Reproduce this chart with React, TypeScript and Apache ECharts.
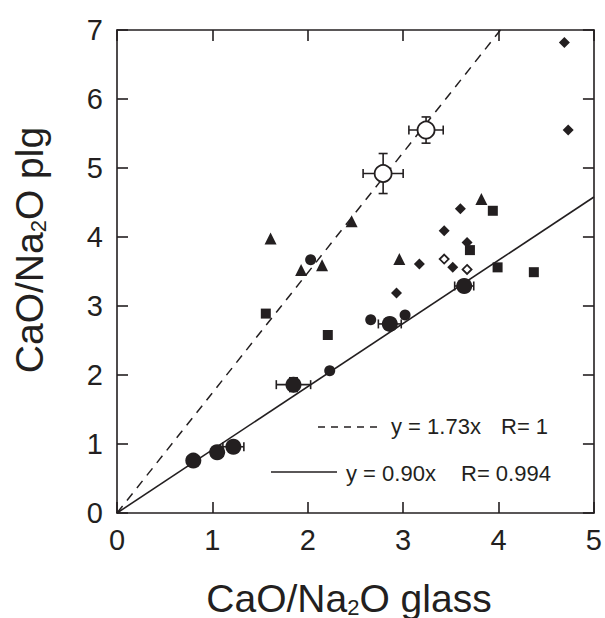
import React, { useEffect, useRef } from "react";
import * as echarts from "echarts";

const FONT = '"Liberation Sans", Arial, Helvetica, sans-serif';
const INK = "#231f20";

const xRange = [0, 5];
const yRange = [0, 7];

// large filled circles: [x, y, xErr, yErr]
const bigDots = [
  [0.8, 0.76, 0, 0],
  [1.05, 0.88, 0, 0],
  [1.22, 0.96, 0.11, 0],
  [1.85, 1.86, 0.18, 0.1],
  [2.86, 2.74, 0.12, 0.08],
  [3.64, 3.29, 0.1, 0],
];
// open circles: [x, y, xErr, yErr]
const openDots = [
  [2.79, 4.92, 0.21, 0.29],
  [3.24, 5.55, 0.18, 0.19],
];
const smallDots = [
  [2.03, 3.67],
  [2.23, 2.06],
  [2.66, 2.8],
  [3.02, 2.87],
];
const triangles = [
  [1.61, 3.98],
  [1.93, 3.52],
  [2.15, 3.59],
  [2.46, 4.23],
  [2.96, 3.68],
  [3.82, 4.55],
];
const squares = [
  [1.56, 2.89],
  [2.21, 2.58],
  [3.7, 3.81],
  [3.94, 4.38],
  [3.99, 3.56],
  [4.37, 3.49],
];
const diamonds = [
  [2.93, 3.19],
  [3.17, 3.61],
  [3.43, 4.09],
  [3.52, 3.56],
  [3.6, 4.41],
  [3.67, 3.92],
  [4.69, 6.82],
  [4.73, 5.55],
];
const openDiamonds = [
  [3.43, 3.68],
  [3.67, 3.53],
];
const dashedFit = [
  [0, 0],
  [4.02, 7],
];
const solidFit = [
  [0, 0],
  [5, 4.58],
];

const fitLabels = ["y = 1.73x", "R= 1", "y = 0.90x", "R= 0.994"];

function errorBars(data: number[][]) {
  return {
    type: "custom",
    data,
    z: 2,
    encode: { x: 0, y: 1 },
    renderItem: (_p: any, api: any) => {
      const x = api.value(0);
      const y = api.value(1);
      const ex = api.value(2);
      const ey = api.value(3);
      const cap = 4.5;
      const style = { stroke: INK, lineWidth: 1.6 };
      const children: any[] = [];
      if (ex > 0) {
        const a = api.coord([x - ex, y]);
        const b = api.coord([x + ex, y]);
        children.push({ type: "line", shape: { x1: a[0], y1: a[1], x2: b[0], y2: b[1] }, style });
        children.push({ type: "line", shape: { x1: a[0], y1: a[1] - cap, x2: a[0], y2: a[1] + cap }, style });
        children.push({ type: "line", shape: { x1: b[0], y1: b[1] - cap, x2: b[0], y2: b[1] + cap }, style });
      }
      if (ey > 0) {
        const a = api.coord([x, y - ey]);
        const b = api.coord([x, y + ey]);
        children.push({ type: "line", shape: { x1: a[0], y1: a[1], x2: b[0], y2: b[1] }, style });
        children.push({ type: "line", shape: { x1: a[0] - cap, y1: a[1], x2: a[0] + cap, y2: a[1] }, style });
        children.push({ type: "line", shape: { x1: b[0] - cap, y1: b[1], x2: b[0] + cap, y2: b[1] }, style });
      }
      return { type: "group", children };
    },
  };
}

function scatter(data: number[][], symbol: string, size: number, open = false) {
  return {
    type: "scatter",
    data: data.map((d) => [d[0], d[1]]),
    symbol,
    symbolSize: size,
    z: 4,
    itemStyle: open
      ? { color: "#ffffff", borderColor: INK, borderWidth: 1.8, opacity: 1 }
      : { color: INK, borderWidth: 0, opacity: 1 },
    emphasis: { disabled: true },
  };
}

export default function App() {
  const ref = useRef<HTMLDivElement>(null);
  useEffect(() => {
    if (!ref.current) return;
    const chart = echarts.init(ref.current, null, { renderer: "svg" });
    const axisLine = { show: true, onZero: false, lineStyle: { color: INK, width: 1.6 } };
    const axisTick = { show: true, inside: true, length: 11, lineStyle: { color: INK, width: 1.6 } };
    const label = { fontSize: 29, color: INK, fontFamily: FONT };
    const titleRich = {
      n: { fontSize: 39, lineHeight: 40, fontFamily: FONT, fill: INK, color: INK },
      s: { fontSize: 22, lineHeight: 22, fontFamily: FONT, fill: INK, color: INK, verticalAlign: "bottom" },
    };
    chart.setOption({
      animation: false,
      backgroundColor: "#ffffff",
      grid: { left: 117, top: 30, right: 6, bottom: 105, containLabel: false },
      xAxis: [
        {
          type: "value",
          min: xRange[0],
          max: xRange[1],
          interval: 1,
          position: "bottom",
          axisLine,
          axisTick,
          axisLabel: { ...label, margin: 12 },
          splitLine: { show: false },
        },
        {
          type: "value",
          min: xRange[0],
          max: xRange[1],
          interval: 1,
          position: "top",
          axisLine,
          axisTick,
          axisLabel: { show: false },
          splitLine: { show: false },
        },
      ],
      yAxis: [
        {
          type: "value",
          min: yRange[0],
          max: yRange[1],
          interval: 1,
          position: "left",
          axisLine,
          axisTick,
          axisLabel: { ...label, margin: 14 },
          splitLine: { show: false },
        },
        {
          type: "value",
          min: yRange[0],
          max: yRange[1],
          interval: 1,
          position: "right",
          axisLine,
          axisTick,
          axisLabel: { show: false },
          splitLine: { show: false },
        },
      ],
      series: [
        {
          type: "line",
          data: dashedFit,
          showSymbol: false,
          z: 1,
          lineStyle: { color: INK, width: 1.5, type: [9, 7] },
        },
        {
          type: "line",
          data: solidFit,
          showSymbol: false,
          z: 1,
          lineStyle: { color: INK, width: 1.6 },
        },
        errorBars(bigDots),
        errorBars(openDots),
        scatter(bigDots, "circle", 16),
        scatter(openDots, "circle", 17, true),
        scatter(smallDots, "circle", 11),
        scatter(triangles, "triangle", 12),
        scatter(squares, "rect", 10),
        scatter(diamonds, "diamond", 11),
        scatter(openDiamonds, "diamond", 9, true),
      ],
      graphic: [
        {
          type: "text",
          x: 349,
          y: 598,
          style: {
            text: "{n|CaO/Na}{s|2}{n|O glass}",
            rich: titleRich,
            align: "center",
            verticalAlign: "middle",
            fill: INK,
          },
        },
        {
          type: "text",
          x: 29,
          y: 250,
          rotation: Math.PI / 2,
          style: {
            text: "{n|CaO/Na}{s|2}{n|O plg}",
            rich: titleRich,
            align: "center",
            verticalAlign: "middle",
            fill: INK,
          },
        },
        {
          type: "line",
          shape: { x1: 318, y1: 427, x2: 383, y2: 427 },
          style: { stroke: INK, lineWidth: 1.5, lineDash: [7, 6] },
        },
        {
          type: "line",
          shape: { x1: 271, y1: 472, x2: 337, y2: 472 },
          style: { stroke: INK, lineWidth: 1.6 },
        },
        {
          type: "text",
          x: 391,
          y: 426,
          style: { text: fitLabels[0], fontSize: 22, fontFamily: FONT, fill: INK, verticalAlign: "middle" },
        },
        {
          type: "text",
          x: 501,
          y: 426,
          style: { text: fitLabels[1], fontSize: 22, fontFamily: FONT, fill: INK, verticalAlign: "middle" },
        },
        {
          type: "text",
          x: 346,
          y: 473,
          style: { text: fitLabels[2], fontSize: 22, fontFamily: FONT, fill: INK, verticalAlign: "middle" },
        },
        {
          type: "text",
          x: 461,
          y: 473,
          style: { text: fitLabels[3], fontSize: 22, fontFamily: FONT, fill: INK, verticalAlign: "middle" },
        },
      ],
    });
    return () => chart.dispose();
  }, []);
  return (
    <div
      ref={ref}
      style={{ position: "fixed", left: 0, top: 0, width: 605, height: 618, background: "#fff" }}
    />
  );
}
